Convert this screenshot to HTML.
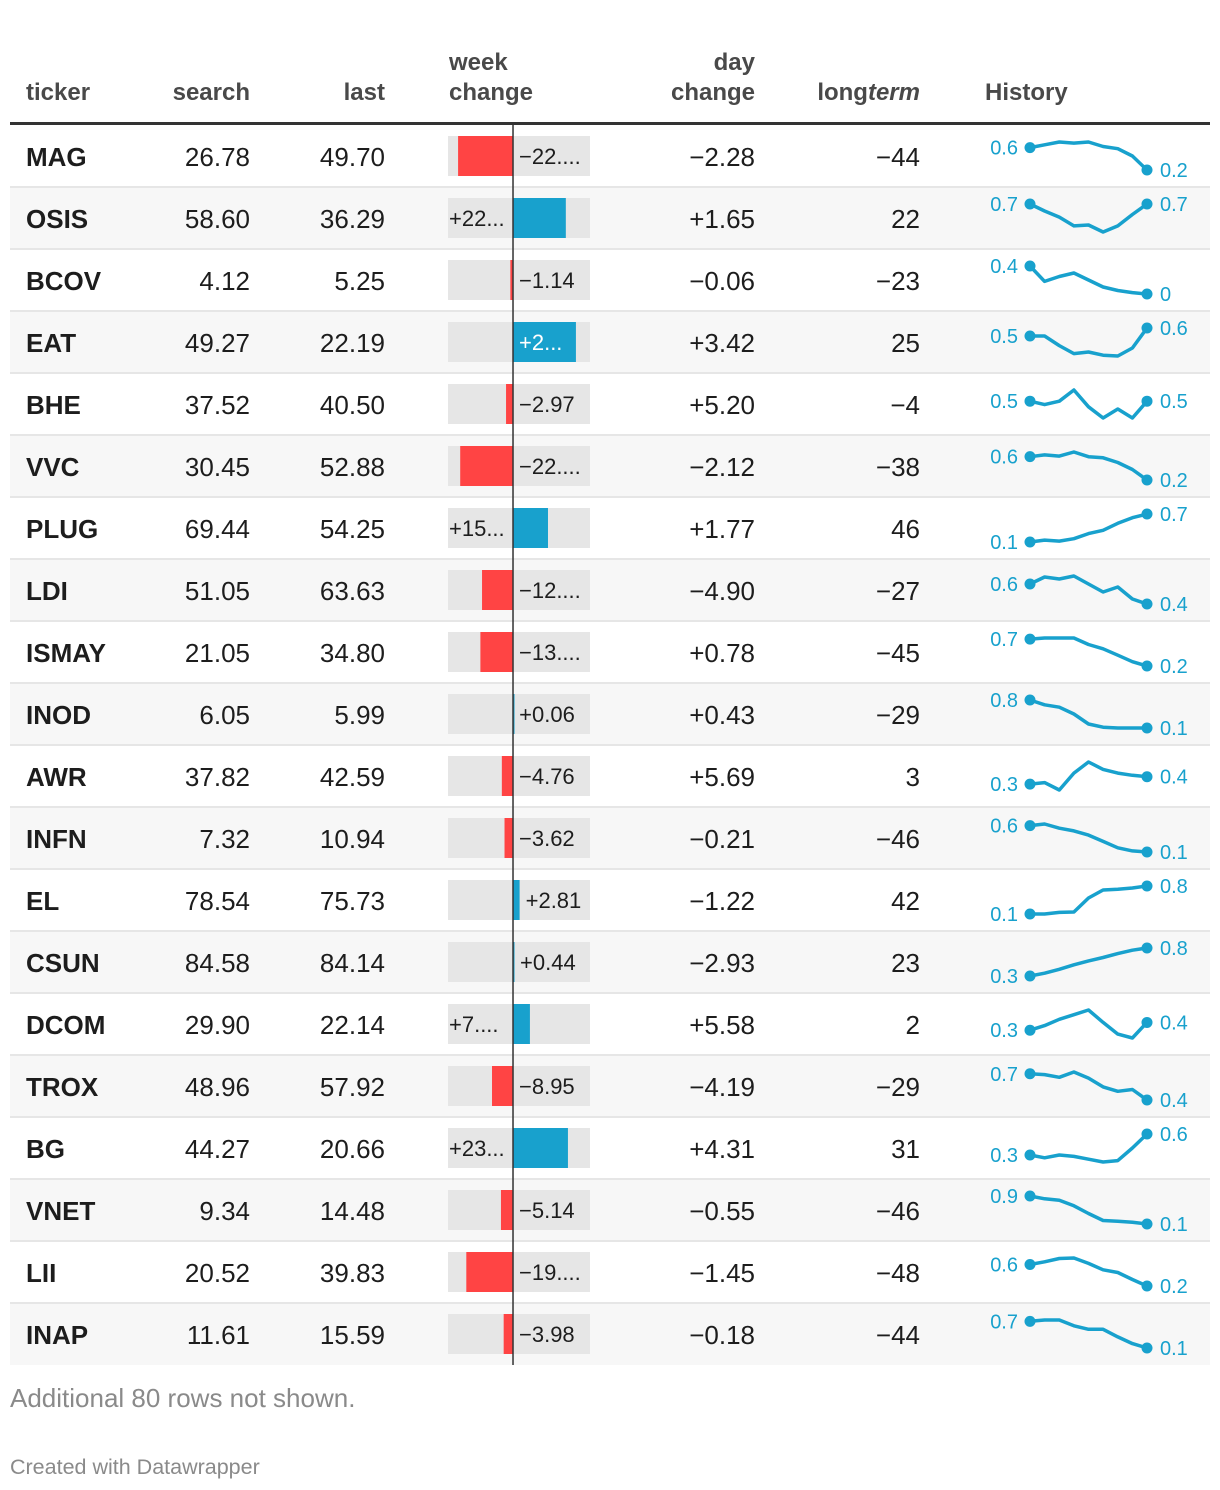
<!DOCTYPE html>
<html><head><meta charset="utf-8"><title>Stock table</title>
<style>
html,body{margin:0;padding:0;background:#fff;}
svg{display:block;font-family:"Liberation Sans",Arial,sans-serif;}
</style></head>
<body>
<svg id="chart" width="1220" height="1490" viewBox="0 0 1220 1490"></svg>
<script>
const tickers=["MAG","OSIS","BCOV","EAT","BHE","VVC","PLUG","LDI","ISMAY","INOD","AWR","INFN","EL","CSUN","DCOM","TROX","BG","VNET","LII","INAP"];
const searchVals=["26.78","58.60","4.12","49.27","37.52","30.45","69.44","51.05","21.05","6.05","37.82","7.32","78.54","84.58","29.90","48.96","44.27","9.34","20.52","11.61"];
const lastVals=["49.70","36.29","5.25","22.19","40.50","52.88","54.25","63.63","34.80","5.99","42.59","10.94","75.73","84.14","22.14","57.92","20.66","14.48","39.83","15.59"];
const weekVals=[-23.4,22.5,-1.14,26.8,-2.97,-22.5,14.9,-13.2,-13.9,0.06,-4.76,-3.62,2.81,0.44,7.2,-8.95,23.4,-5.14,-19.9,-3.98];
const weekLabels=["−22....","+22...","−1.14","+2...","−2.97","−22....","+15...","−12....","−13....","+0.06","−4.76","−3.62","+2.81","+0.44","+7....","−8.95","+23...","−5.14","−19....","−3.98"];
const dayVals=["−2.28","+1.65","−0.06","+3.42","+5.20","−2.12","+1.77","−4.90","+0.78","+0.43","+5.69","−0.21","−1.22","−2.93","+5.58","−4.19","+4.31","−0.55","−1.45","−0.18"];
const longVals=["−44","22","−23","25","−4","−38","46","−27","−45","−29","3","−46","42","23","2","−29","31","−46","−48","−44"];
const hist0=[0.6,0.65,0.7,0.68,0.7,0.62,0.58,0.45,0.2];
const hist1=[0.7,0.62,0.55,0.45,0.46,0.38,0.45,0.58,0.7];
const hist2=[0.4,0.18,0.25,0.3,0.2,0.1,0.05,0.02,0.0];
const hist3=[0.5,0.5,0.38,0.28,0.3,0.26,0.25,0.35,0.6];
const hist4=[0.5,0.47,0.5,0.6,0.45,0.35,0.43,0.35,0.5];
const hist5=[0.6,0.63,0.61,0.68,0.6,0.58,0.5,0.38,0.2];
const hist6=[0.1,0.14,0.12,0.17,0.28,0.35,0.5,0.62,0.7];
const hist7=[0.6,0.67,0.65,0.68,0.6,0.52,0.57,0.45,0.4];
const hist8=[0.7,0.72,0.72,0.72,0.6,0.52,0.4,0.28,0.2];
const hist9=[0.8,0.68,0.62,0.45,0.2,0.12,0.1,0.1,0.1];
const hist10=[0.3,0.32,0.22,0.45,0.6,0.5,0.45,0.42,0.4];
const hist11=[0.6,0.63,0.55,0.5,0.42,0.3,0.18,0.12,0.1];
const hist12=[0.1,0.1,0.14,0.15,0.5,0.7,0.72,0.75,0.8];
const hist13=[0.3,0.35,0.42,0.5,0.57,0.63,0.7,0.76,0.8];
const hist14=[0.3,0.36,0.44,0.5,0.56,0.4,0.25,0.2,0.4];
const hist15=[0.7,0.69,0.66,0.72,0.65,0.55,0.5,0.52,0.4];
const hist16=[0.3,0.26,0.3,0.28,0.24,0.2,0.22,0.4,0.6];
const hist17=[0.9,0.82,0.78,0.62,0.4,0.2,0.18,0.15,0.1];
const hist18=[0.6,0.65,0.71,0.72,0.62,0.5,0.45,0.32,0.2];
const hist19=[0.7,0.73,0.73,0.6,0.52,0.52,0.35,0.2,0.1];
const histories=[hist0,hist1,hist2,hist3,hist4,hist5,hist6,hist7,hist8,hist9,hist10,hist11,hist12,hist13,hist14,hist15,hist16,hist17,hist18,hist19];

const NS="http://www.w3.org/2000/svg";
const svg=document.getElementById("chart");
function mk(tag,attrs,parent,text){
  const e=document.createElementNS(NS,tag);
  for(const k in attrs)e.setAttribute(k,attrs[k]);
  if(text!==undefined)e.textContent=text;
  (parent||svg).appendChild(e);return e;
}
const ROW0=125,ROWH=62;
const WMIN=-27.7,WMAX=32.8,BX0=448,BX1=590;
function wx(v){return BX0+(v-WMIN)/(WMAX-WMIN)*(BX1-BX0);}
const SX0=1030,SX1=1147;

const hdr=mk("g",{"font-weight":"bold","font-size":"24",fill:"#494949"});


const heads=[["ticker",26,"start",null],["search",250,"end",null],["last",385,"end",null],["change",449,"start","week"],["change",755,"end","day"],["History",985,"start",null]];
heads.forEach(h=>{
  const t=mk("text",{x:h[1],y:100,"text-anchor":h[2]},hdr,h[0]);
  
  
  if(h[3]){const t2=mk("text",{x:h[1],y:70,"text-anchor":h[2]},hdr,h[3]);
    
    }
});
const lt=mk("text",{x:920,y:100,"text-anchor":"end"},hdr);


mk("tspan",{},lt,"long");mk("tspan",{"font-style":"italic"},lt,"term");

tickers.forEach((tk,i)=>{
  const top=ROW0+i*ROWH, cy=top+31, by=cy+10;
  const g=mk("g",{});
  
  
  mk("rect",{x:10,y:top,width:1200,height:ROWH,fill:i%2?"#f7f7f7":"#ffffff"},g);
  if(i>0)mk("rect",{x:10,y:top-1,width:1200,height:2,fill:"#e6e6e6"},g);
  const t1=mk("text",{x:26,y:by,"font-size":"26","font-weight":"bold",fill:"#1d1d1d"},g,tk);
  
  
  const t2=mk("text",{x:250,y:by,"font-size":"26",fill:"#1d1d1d","text-anchor":"end"},g,searchVals[i]);
  
  
  const t3=mk("text",{x:385,y:by,"font-size":"26",fill:"#1d1d1d","text-anchor":"end"},g,lastVals[i]);
  
  
  const t4=mk("text",{x:755,y:by,"font-size":"26",fill:"#1d1d1d","text-anchor":"end"},g,dayVals[i]);
  
  
  const t5=mk("text",{x:920,y:by,"font-size":"26",fill:"#1d1d1d","text-anchor":"end"},g,longVals[i]);
  
  
  mk("rect",{x:BX0,y:top+11,width:BX1-BX0,height:40,fill:"#e6e6e6"},g);
  const v=weekVals[i], z=wx(0), e=wx(v);
  const bar=mk("rect",{x:Math.min(z,e),y:top+11,width:Math.max(Math.abs(e-z),1.5),height:40,fill:v<0?"#ff4444":"#18a1cd"},g);
  
  
  let lx,col="#1d1d1d";
  if(v<0){lx=z+6;}
  else if(BX1-e>=62){lx=e+6;}
  else if(e-z>=60){lx=z+6;col="#ffffff";}
  else{lx=BX0+1;}
  const wl=mk("text",{x:lx,y:cy+8,"font-size":"22",fill:col},g,weekLabels[i]);
  
  
  const h=histories[i], mn=Math.min(...h), mx=Math.max(...h);
  const sy=val=>mx===mn?cy:top+45-(val-mn)/(mx-mn)*28;
  const sxf=j=>SX0+j*(SX1-SX0)/(h.length-1);
  const pts=h.map((val,j)=>sxf(j).toFixed(1)+","+sy(val).toFixed(1)).join(" ");
  const pl=mk("polyline",{points:pts,fill:"none",stroke:"#18a1cd","stroke-width":"3.5","stroke-linejoin":"round","stroke-linecap":"round"},g);
  
  
  const y0=sy(h[0]), y1=sy(h[h.length-1]);
  mk("circle",{cx:SX0,cy:y0,r:5.5,fill:"#18a1cd"},g);
  mk("circle",{cx:SX1,cy:y1,r:5.5,fill:"#18a1cd"},g);
  const sl=mk("text",{x:1018,y:y0+7,"font-size":"20",fill:"#18a1cd","text-anchor":"end"},g,String(h[0]));
  
  
  const el=mk("text",{x:1160,y:y1+7,"font-size":"20",fill:"#18a1cd"},g,String(h[h.length-1]));
  
  
});
const rule=mk("rect",{x:10,y:122,width:1200,height:3,fill:"#333"});


const ax=mk("line",{x1:wx(0),x2:wx(0),y1:125,y2:ROW0+tickers.length*ROWH,stroke:"#333","stroke-width":"1.5"});


const n1=mk("text",{x:10,y:1407,"font-size":"26",fill:"#8a8a8a"},svg,"Additional 80 rows not shown.");


const n2=mk("text",{x:10,y:1474,"font-size":"21.5",fill:"#8a8a8a"},svg,"Created with Datawrapper");


</script>
</body></html>
